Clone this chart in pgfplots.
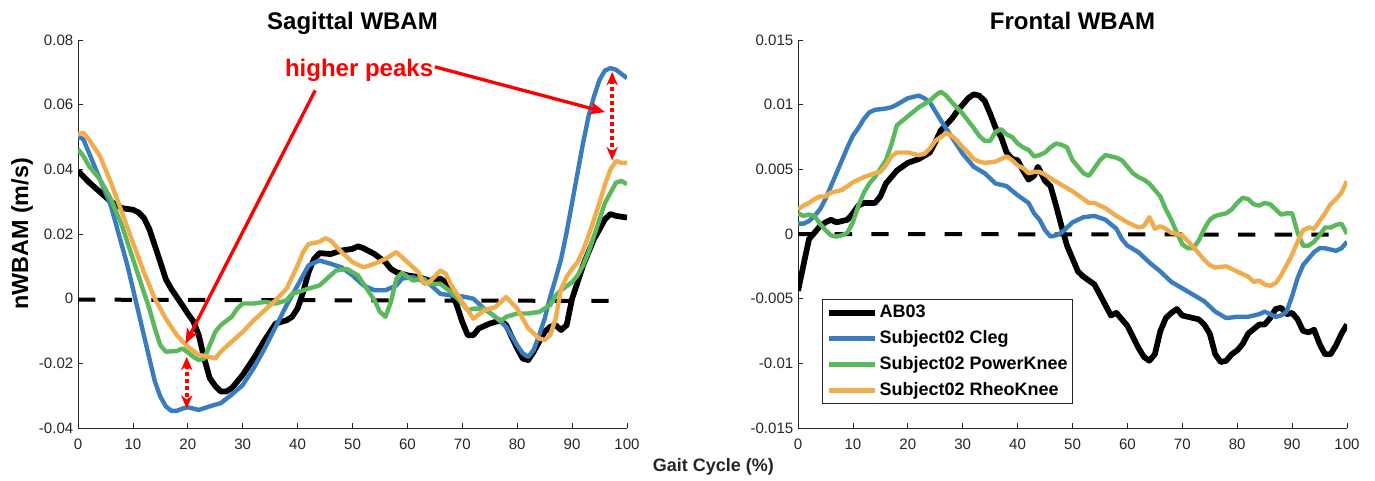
\documentclass[border=0pt]{standalone}
\usepackage{fontspec}
\setmainfont{Liberation Sans}
\usepackage{pgfplots}
\pgfplotsset{compat=1.18}
\usetikzlibrary{arrows.meta}

\definecolor{cblue}{RGB}{58,125,190}
\definecolor{cgreen}{RGB}{92,184,92}
\definecolor{corange}{RGB}{240,173,78}
\definecolor{axgray}{RGB}{38,38,38}

\pgfplotsset{
  wbam/.style={
    scale only axis, width=411.75pt, height=291pt,
    axis lines*=left,
    axis line style={draw=axgray, line width=0.6pt, -},
    xmin=0, xmax=100, xtick={0,10,...,100},
    tick align=inside, major tick length=4pt,
    tick style={draw=axgray, line width=0.6pt},
    ticklabel style={font=\fontsize{11.3}{13}\selectfont, text=axgray},
    xticklabel style={yshift=-4.5pt},
    scaled y ticks=false,
    /pgf/number format/assume math mode=true,
    title style={font=\fontsize{18}{20}\selectfont\bfseries, at={(0.5,1)}, anchor=base, yshift=2.25pt},
  },
  sub/.style={line width=3.3pt, line join=round},
  ab/.style={black, line width=4.3pt, line join=round},
  zline/.style={black, line width=3pt, dash pattern=on 13pt off 14.5pt},
}
\tikzset{
  bigarr/.style={red, line width=2.5pt, -{Stealth[length=11pt, width=9pt, inset=2.5pt]}},
  dblarr/.style={red, line width=2.9pt, dash pattern=on 3pt off 2.2pt,
    {Stealth[length=10pt, width=8.5pt]}-{Stealth[length=10pt, width=8.5pt]}},
}

\begin{document}
\begin{tikzpicture}
\path[use as bounding box] (0,0) rectangle (1031.25pt,360pt);

% ---------------- Sagittal ----------------
\begin{axis}[wbam,
  at={(58.5pt,39pt)}, anchor=south west,
  ymin=-0.04, ymax=0.08,
  ytick={-0.04,-0.02,0,0.02,0.04,0.06,0.08},
  yticklabels={-0.04,-0.02,0,0.02,0.04,0.06,0.08},
  title={Sagittal WBAM},
  ylabel={nWBAM (m/s)},
  ylabel style={font=\fontsize{17.5}{20}\selectfont\bfseries, at={(axis description cs:-0.102,0.5)}, anchor=center},
]
\addplot[zline] coordinates {(0,-0.0003) (97,-0.0007)};
\addplot[ab] coordinates {
(0,0.0395) (2,0.036) (4,0.033) (6,0.030) (8,0.028) (10,0.0275) (11,0.0267) (12,0.025)
(13,0.0215) (14,0.0164) (15,0.0113) (16,0.006) (17,0.003) (18,0.0005) (19,-0.002)
(20,-0.0046) (21,-0.007) (22,-0.0113) (23,-0.0185) (24,-0.0246) (25,-0.027) (26,-0.0287)
(27,-0.0287) (28,-0.0277) (30,-0.0236) (32,-0.0185) (34,-0.0128) (36,-0.0077) (38,-0.0067)
(39,-0.0056) (40,-0.003) (41,0.002) (42,0.0082) (43,0.0123) (44,0.0141) (46,0.0138)
(48,0.0149) (50,0.0154) (51,0.0162) (52,0.0156) (54,0.0138) (56,0.0113) (57,0.0092)
(58,0.0082) (60,0.0072) (62,0.0067) (64,0.0056) (66,0.0062) (67,0.0051) (68,0.002)
(69,-0.002) (70,-0.0072) (71,-0.0113) (72,-0.0113) (73,-0.0092) (75,-0.0077) (77,-0.0067)
(78,-0.0082) (80,-0.0154) (81,-0.0185) (82,-0.019) (83,-0.0164) (84,-0.0133) (85,-0.0103)
(86,-0.0087) (87,-0.0082) (88,-0.0097) (89,-0.0082) (90,0) (91,0.0051) (92,0.0103)
(93,0.0144) (94,0.0185) (95,0.0215) (96,0.0246) (97,0.0262) (98,0.0256) (100,0.0251)
};
\addplot[sub, cblue] coordinates {
(0,0.0503) (1,0.0492) (2,0.0451) (4,0.0369) (6,0.0287) (8,0.0164) (9,0.0103) (10,0.0031)
(11,-0.0041) (12,-0.0113) (13,-0.0185) (14,-0.0256) (15,-0.0303) (16,-0.0333) (17,-0.0347)
(18,-0.0347) (19,-0.034) (20,-0.0336) (22,-0.0344) (24,-0.0333) (26,-0.0323) (28,-0.0297)
(30,-0.0267) (32,-0.0215) (34,-0.0154) (36,-0.0087) (38,-0.002) (40,0.0041) (42,0.0103)
(44,0.0118) (46,0.0108) (48,0.0097) (50,0.0072) (52,0.0041) (54,0.0026) (56,0.0026)
(58,0.0041) (59,0.0062) (61,0.0067) (64,0.0046) (66,0.0015) (68,0.001) (70,0.0007)
(72,0) (74,-0.0031) (76,-0.0056) (78,-0.0087) (80,-0.0144) (81,-0.0169) (82,-0.018)
(83,-0.0159) (84,-0.0113) (85,-0.0062) (86,0.0005) (87,0.0062) (88,0.0123) (89,0.0205)
(90,0.0297) (91,0.039) (92,0.0482) (93,0.0564) (94,0.0626) (95,0.0677) (96,0.0706)
(97,0.0713) (98,0.0708) (99,0.0695) (100,0.0682)
};
\addplot[sub, cgreen] coordinates {
(0,0.0462) (1,0.0441) (2,0.041) (4,0.0369) (6,0.0308) (8,0.0226) (10,0.0123) (12,0.002)
(13,-0.0031) (14,-0.0092) (15,-0.0144) (16,-0.0164) (18,-0.0162) (19,-0.0154) (20,-0.0166)
(21,-0.018) (22,-0.019) (23,-0.0185) (24,-0.0144) (25,-0.0103) (26,-0.0082) (28,-0.0056)
(29,-0.0031) (30,-0.0015) (32,-0.0015) (34,-0.001) (36,-0.0015) (38,-0.0005) (39,0.0015)
(40,0.002) (42,0.0031) (44,0.0041) (46,0.0072) (47,0.0087) (49,0.0092) (51,0.0072)
(52,0.0046) (54,-0.0005) (55,-0.0041) (56,-0.0056) (57,-0.001) (58,0.0062) (59,0.008)
(61,0.0056) (63,0.0062) (64,0.0046) (66,0.0046) (68,0.002) (70,-0.0015) (71,-0.0036)
(72,-0.0031) (74,-0.0031) (76,-0.0056) (77,-0.007) (78,-0.0056) (80,-0.0046) (82,-0.0046)
(84,-0.0041) (86,-0.002) (87,0.001) (88,0.0026) (90,0.0051) (91,0.0072) (92,0.0103)
(93,0.0144) (94,0.0195) (95,0.0246) (96,0.0297) (97,0.0328) (98,0.0359) (99,0.0364)
(100,0.0354)
};
\addplot[sub, corange] coordinates {
(0,0.0508) (1,0.0513) (2,0.0492) (4,0.0441) (6,0.0359) (8,0.0267) (10,0.0174) (12,0.0082)
(14,0) (16,-0.0062) (18,-0.0113) (20,-0.0149) (22,-0.0174) (24,-0.018) (25,-0.0185)
(26,-0.0164) (28,-0.0133) (30,-0.0103) (32,-0.0067) (34,-0.0036) (36,-0.0005) (38,0.0031)
(40,0.0103) (41,0.0144) (42,0.0169) (44,0.0176) (45,0.0187) (46,0.018) (48,0.0144)
(50,0.0113) (52,0.0097) (54,0.0108) (56,0.0123) (58,0.0144) (60,0.0113) (62,0.0082)
(63,0.0046) (64,0.0051) (66,0.0087) (67,0.0077) (68,0.0041) (70,-0.001) (72,-0.0062)
(74,-0.0036) (76,-0.0026) (78,0.0005) (80,-0.0031) (82,-0.0092) (84,-0.0123) (85,-0.0128)
(86,-0.0113) (87,-0.0062) (88,0.0031) (89,0.0067) (90,0.0092) (91,0.0113) (92,0.0149)
(93,0.0195) (94,0.0246) (95,0.0297) (96,0.0354) (97,0.04) (98,0.0426) (99,0.042)
(100,0.042)
};

% annotations
\node[text=red, font=\fontsize{18}{20}\selectfont\bfseries] at (axis cs:51.2,0.0705) {higher peaks};
\draw[bigarr] (axis cs:43.2,0.0644) -- (axis cs:19.6,-0.0139);
\draw[bigarr] (axis cs:65.0,0.0717) -- (axis cs:96.0,0.0577);
\draw[dblarr] (axis cs:19.8,-0.018) -- (axis cs:19.8,-0.034);
\draw[dblarr] (axis cs:97.3,0.0701) -- (axis cs:97.3,0.0428);
\end{axis}

% ---------------- Frontal ----------------
\begin{axis}[wbam,
  at={(598.5pt,39pt)}, anchor=south west,
  ymin=-0.015, ymax=0.015,
  ytick={-0.015,-0.01,-0.005,0,0.005,0.01,0.015},
  yticklabels={-0.015,-0.01,-0.005,0,0.005,0.01,0.015},
  title={Frontal WBAM},
  legend style={at={(axis cs:4.4,-0.00503)}, anchor=north west,
    draw=axgray, line width=0.6pt, inner sep=2.5pt,
    font=\fontsize{13.5}{16}\selectfont\bfseries,
    row sep=4.4pt,
    nodes={inner sep=1pt, text height=10pt, text depth=3pt}},
  legend cell align=left,
  legend image code/.code={\draw[#1] (0pt,0pt) -- (35pt,0pt);},
]
\addplot[zline, forget plot] coordinates {(0,0) (97,-0.00005)};
\addplot[ab] coordinates {
(0,-0.0044) (1,-0.0024) (2,-0.0004) (3,0.0001) (4,0.0006) (5,0.0009) (6,0.0011) (7,0.0009)
(8,0.001) (9,0.0011) (10,0.0016) (11,0.0022) (12,0.0024) (14,0.0024) (15,0.0029)
(16,0.0039) (18,0.0049) (20,0.0055) (22,0.0058) (24,0.0063) (25,0.0071) (26,0.008)
(28,0.0089) (29,0.0095) (30,0.01) (31,0.0105) (32,0.0108) (33,0.0107) (34,0.0103)
(35,0.0093) (36,0.0082) (37,0.0075) (38,0.0063) (39,0.0058) (40,0.0057) (41,0.0049)
(42,0.0042) (43,0.0045) (43.7,0.0052) (45,0.0041) (46,0.0037) (47,0.0022) (48,0.0006)
(49,-0.0009) (50,-0.0019) (51,-0.0029) (52,-0.0033) (54,-0.0039) (56,-0.0055)
(57,-0.0063) (58,-0.0061) (60,-0.0071) (62,-0.0088) (63,-0.0095) (64,-0.0098)
(65,-0.0093) (66,-0.0075) (67,-0.0065) (68,-0.0061) (69,-0.0058) (70,-0.0063)
(72,-0.0065) (73,-0.0066) (74,-0.007) (75,-0.0077) (76,-0.0093) (77,-0.0099)
(78,-0.0098) (79,-0.0093) (80,-0.009) (81,-0.0085) (82,-0.0077) (84,-0.007) (85,-0.007)
(86,-0.0065) (87,-0.0058) (88,-0.0057) (89,-0.0062) (90,-0.0061) (91,-0.0066)
(92,-0.0075) (93,-0.0076) (94,-0.0074) (95,-0.0085) (96,-0.0093) (97,-0.0093)
(98,-0.0086) (99,-0.0077) (100,-0.007)
};
\addlegendentry{AB03}
\addplot[sub, cblue] coordinates {
(0,0.0008) (1,0.0008) (2,0.001) (3,0.0014) (4,0.0019) (5,0.0027) (6,0.0037) (7,0.0047)
(8,0.0057) (9,0.0067) (10,0.0076) (11,0.0082) (12,0.0089) (13,0.0094) (14,0.0096)
(16,0.0097) (17,0.0098) (18,0.01) (20,0.0105) (22,0.0107) (23,0.0105) (24,0.0102)
(25,0.0095) (26,0.0088) (28,0.0075) (30,0.0062) (32,0.0052) (34,0.0047) (36,0.0039)
(38,0.0037) (40,0.003) (42,0.0024) (43,0.0016) (44,0.0011) (45,0.0003) (46,-0.0002)
(47,-0.0001) (48,0.0001) (50,0.0009) (52,0.0013) (54,0.0014) (56,0.0011) (58,0.0004)
(59,-0.0004) (60,-0.0009) (62,-0.0014) (64,-0.0022) (66,-0.0029) (68,-0.0037)
(70,-0.0042) (72,-0.0047) (74,-0.0052) (76,-0.006) (78,-0.0065) (80,-0.0064)
(82,-0.0064) (84,-0.0062) (85,-0.006) (86,-0.0062) (87,-0.0064) (88,-0.0063)
(89,-0.006) (90,-0.0048) (91,-0.0034) (92,-0.0024) (93,-0.0019) (94,-0.0014)
(95,-0.0011) (96,-0.0011) (97,-0.0012) (98,-0.0013) (99,-0.0011) (100,-0.0006)
};
\addlegendentry{Subject02 Cleg}
\addplot[sub, cgreen] coordinates {
(0,0.0016) (1,0.0014) (2,0.0015) (3,0.0014) (4,0.0008) (5,0.0003) (6,-0.0001) (7,-0.0002)
(8,-0.0001) (9,0.0001) (10,0.0009) (11,0.0022) (12,0.0032) (13,0.0039) (14,0.0044)
(16,0.0057) (17,0.0069) (18,0.0084) (20,0.0091) (22,0.0098) (24,0.0103) (25,0.0107)
(26,0.011) (27,0.0107) (28,0.0102) (30,0.0093) (32,0.0082) (33,0.0076) (34,0.0072)
(35,0.0072) (36,0.0079) (37,0.0081) (38,0.0077) (39,0.0075) (40,0.007) (41,0.0067)
(42,0.0065) (43,0.006) (44,0.0061) (45,0.0063) (46,0.0067) (47,0.007) (48,0.0069)
(49,0.0067) (50,0.0057) (52,0.0047) (53,0.0045) (54,0.0051) (55,0.0057) (56,0.0061)
(58,0.0059) (59,0.0057) (60,0.0052) (61,0.0047) (62,0.0044) (63,0.0042) (64,0.0039)
(65,0.0034) (66,0.0029) (67,0.0019) (68,0.0011) (69,0.0001) (70,-0.0008) (71,-0.0011)
(72,-0.0011) (73,-0.0005) (74,0.0004) (75,0.0011) (76,0.0014) (77,0.0015) (78,0.0016)
(79,0.0019) (80,0.0024) (81,0.0028) (82,0.0027) (83,0.0023) (84,0.0022) (85,0.0024)
(86,0.0023) (87,0.0019) (88,0.0015) (89,0.0016) (90,0.0016) (91,0.0001) (92,-0.0009)
(93,-0.0009) (94,-0.0006) (95,-0.0001) (96,0.0005) (97,0.0005) (98,0.0007) (99,0.0008)
(100,0)
};
\addlegendentry{Subject02 PowerKnee}
\addplot[sub, corange] coordinates {
(0,0.0019) (1,0.0022) (2,0.0024) (3,0.0027) (4,0.0029) (5,0.0029) (6,0.0032) (8,0.0034)
(10,0.004) (12,0.0044) (14,0.0047) (15,0.0048) (16,0.0053) (17,0.006) (18,0.0063)
(20,0.0063) (21,0.0062) (22,0.0061) (23,0.0062) (24,0.0066) (25,0.0072) (26,0.0075)
(27,0.0078) (28,0.0076) (29,0.0072) (30,0.0067) (31,0.0063) (32,0.0058) (33,0.0056)
(34,0.0055) (36,0.0056) (37,0.0058) (38,0.006) (39,0.0057) (40,0.0053) (41,0.0051)
(42,0.0047) (43,0.0048) (44,0.0048) (45,0.0046) (46,0.0043) (48,0.0038) (50,0.0033)
(52,0.0027) (53,0.0024) (54,0.0024) (56,0.002) (58,0.0014) (60,0.0009) (62,0.0005)
(63,0.0006) (64,0.0013) (65,0.0004) (66,0.0006) (67,0.0004) (68,0.0001) (70,-0.0001)
(72,-0.001) (74,-0.002) (75,-0.0024) (76,-0.0026) (78,-0.0025) (80,-0.0029) (82,-0.0033)
(83,-0.0037) (84,-0.0036) (85,-0.0039) (86,-0.004) (87,-0.0038) (88,-0.0032) (89,-0.0024)
(90,-0.0016) (91,-0.0006) (92,0.0003) (93,0.0005) (94,0.0004) (95,0.001) (96,0.0016)
(97,0.0023) (98,0.0027) (99,0.0032) (100,0.0041)
};
\addlegendentry{Subject02 RheoKnee}
\end{axis}

\node[font=\fontsize{13.5}{16}\selectfont\bfseries, text=axgray] at (535pt,9.75pt) {Gait Cycle (\%)};
\end{tikzpicture}
\end{document}
